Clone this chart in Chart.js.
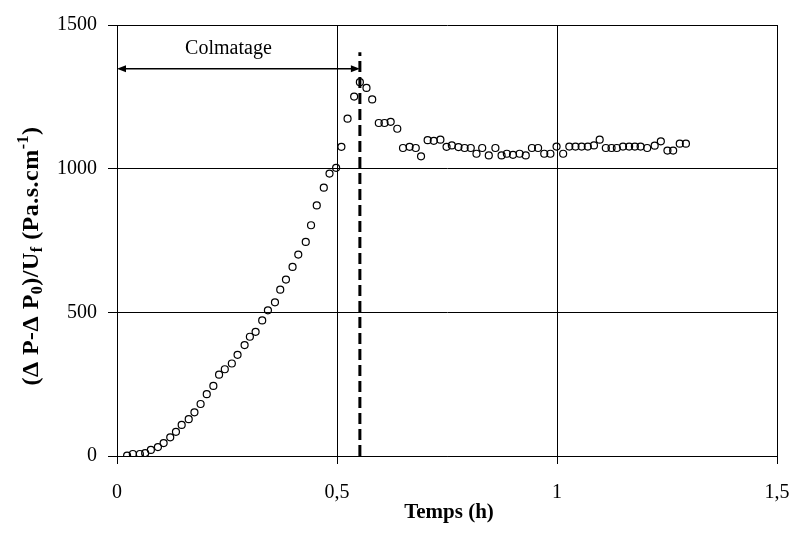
<!DOCTYPE html>
<html>
<head>
<meta charset="utf-8">
<script src="https://cdn.jsdelivr.net/npm/chart.js@4/dist/chart.umd.min.js"></script>
<style>
  body { margin: 0; background: #fff; }
  #wrap { width: 793px; height: 540px; }
</style>
</head>
<body>
<div id="wrap"><canvas id="myChart"></canvas></div>
<script>
// temps (h)
const temps = [
  0.023, 0.036, 0.052, 0.064, 0.077, 0.093, 0.106, 0.121, 0.134, 0.147,
  0.163, 0.176, 0.190, 0.204, 0.219, 0.232, 0.245, 0.261, 0.274, 0.290,
  0.302, 0.315, 0.330, 0.343, 0.359, 0.371, 0.384, 0.399, 0.412, 0.429,
  0.441, 0.454, 0.470, 0.483, 0.498, 0.510, 0.524, 0.539, 0.552, 0.567,
  0.580, 0.595, 0.608, 0.622, 0.637, 0.650, 0.665, 0.679, 0.691, 0.706,
  0.720, 0.735, 0.749, 0.761, 0.776, 0.790, 0.804, 0.817, 0.830, 0.845,
  0.860, 0.874, 0.886, 0.900, 0.915, 0.929, 0.943, 0.957, 0.971, 0.985,
  0.999, 1.014, 1.028, 1.042, 1.056, 1.070, 1.084, 1.097, 1.111, 1.124,
  1.136, 1.150, 1.164, 1.177, 1.190, 1.205, 1.222, 1.236, 1.251, 1.264,
  1.279, 1.293
];
// (dP-dP0)/Uf (Pa.s.cm-1)
const resistance = [
  1, 7, 7, 10, 21, 31, 45, 65, 84, 108,
  128, 152, 181, 215, 244, 283, 302, 322, 352, 386,
  415, 432, 472, 507, 535, 579, 614, 658, 701, 745,
  803, 872, 934, 983, 1003, 1076, 1174, 1251, 1301, 1281,
  1241, 1159, 1159, 1163, 1139, 1072, 1076, 1072, 1043, 1099,
  1097, 1101, 1076, 1081, 1075, 1072, 1072, 1052, 1072, 1046,
  1072, 1046, 1052, 1048, 1052, 1046, 1072, 1072, 1052, 1052,
  1077, 1052, 1077, 1077, 1077, 1077, 1081, 1101, 1072, 1072,
  1072, 1077, 1077, 1077, 1077, 1072, 1080, 1095, 1063, 1063,
  1087, 1087
];

const xTicks = [0, 0.5, 1, 1.5];
const yTicks = [0, 500, 1000, 1500];

// fin du colmatage (ligne pointillee) et fleche
const colmatageEnd = 0.552;
const dashedTop = 1405;
const arrowX = [0, 0.552];
const arrowY = 1348;
const arrowLabel = 'Colmatage';

const serif = "'Liberation Serif', 'Times New Roman', serif";

const points = temps.map((t, i) => ({ x: t, y: resistance[i] }));
const dashed = [{ x: colmatageEnd, y: 0 }, { x: colmatageEnd, y: dashedTop }];

const extras = {
  id: 'extras',
  afterDatasetsDraw(chart) {
    const c = chart.ctx;
    const xs = chart.scales.x, ys = chart.scales.y;
    // fleche double
    const x1 = xs.getPixelForValue(arrowX[0]);
    const x2 = xs.getPixelForValue(arrowX[1]);
    const y = ys.getPixelForValue(arrowY);
    c.save();
    c.strokeStyle = '#000';
    c.fillStyle = '#000';
    c.lineWidth = 1.5;
    c.beginPath();
    c.moveTo(x1 + 6, y);
    c.lineTo(x2 - 6, y);
    c.stroke();
    c.beginPath();
    c.moveTo(x1, y); c.lineTo(x1 + 9, y - 3.5); c.lineTo(x1 + 9, y + 3.5); c.closePath();
    c.fill();
    c.beginPath();
    c.moveTo(x2, y); c.lineTo(x2 - 9, y - 3.5); c.lineTo(x2 - 9, y + 3.5); c.closePath();
    c.fill();
    c.font = '20px ' + serif;
    c.textAlign = 'center';
    c.textBaseline = 'alphabetic';
    c.fillText(arrowLabel, (x1 + x2) / 2 - 10, y - 15);
    c.restore();
  },
  afterDraw(chart) {
    const c = chart.ctx;
    c.save();
    c.fillStyle = '#000';
    // titre axe x
    c.font = 'bold 21px ' + serif;
    c.textAlign = 'center';
    c.textBaseline = 'alphabetic';
    c.fillText('Temps (h)', 449, 518);
    // titre axe y avec indices
    const parts = [
      ['(\u0394 P-\u0394 P', 0], ['0', 1], [')/U', 0], ['f', 1],
      [' (Pa.s.cm', 0], ['-1', -1], [')', 0]
    ];
    const big = 'bold 24px ' + serif, small = 'bold 16px ' + serif;
    c.letterSpacing = '0.5px';
    let total = 0;
    parts.forEach(p => { c.font = p[1] ? small : big; total += c.measureText(p[0]).width; });
    c.translate(38, 256);
    c.rotate(-Math.PI / 2);
    c.textAlign = 'left';
    let px = -total / 2;
    parts.forEach(p => {
      c.font = p[1] ? small : big;
      const dy = p[1] === 1 ? 4 : (p[1] === -1 ? -10 : 0);
      c.fillText(p[0], px, dy);
      px += c.measureText(p[0]).width;
    });
    c.restore();
  }
};

const ctx = document.getElementById('myChart').getContext('2d');
const myChart = new Chart(ctx, {
  type: 'scatter',
  data: {
    datasets: [
      {
        label: 'mesures',
        data: points,
        pointRadius: 3.5,
        pointBorderWidth: 1.2,
        borderColor: '#000',
        backgroundColor: 'rgba(255,255,255,0)',
        pointBackgroundColor: 'rgba(255,255,255,0)'
      },
      {
        label: 'fin colmatage',
        type: 'line',
        data: dashed,
        borderColor: '#000',
        borderWidth: 3,
        borderDash: [11, 5],
        pointRadius: 0,
        fill: false
      }
    ]
  },
  options: {
    responsive: true,
    maintainAspectRatio: false,
    animation: false,
    layout: { padding: { top: 25, right: 16, left: 0, bottom: 0 } },
    plugins: {
      legend: { display: false },
      tooltip: { enabled: false }
    },
    scales: {
      x: {
        type: 'linear',
        min: 0,
        max: 1.5,
        afterFit: s => { s.height = 84; s.paddingRight = 0; s.paddingLeft = 0; },
        afterBuildTicks: s => { s.ticks = xTicks.map(v => ({ value: v })); },
        ticks: {
          color: '#000',
          padding: 17,
          font: { family: serif, size: 20 },
          callback: v => String(v).replace('.', ',')
        },
        grid: { color: '#000', lineWidth: 1, tickLength: 8 },
        border: { color: '#000', width: 1 }
      },
      y: {
        type: 'linear',
        min: 0,
        max: 1500,
        afterFit: s => { s.width = 117; },
        afterBuildTicks: s => { s.ticks = yTicks.map(v => ({ value: v })); },
        ticks: {
          color: '#000',
          padding: 11,
          font: { family: serif, size: 20 },
          callback: v => String(v)
        },
        grid: { color: '#000', lineWidth: 1, tickLength: 9 },
        border: { color: '#000', width: 1 }
      }
    }
  },
  plugins: [extras]
});
</script>
</body>
</html>
